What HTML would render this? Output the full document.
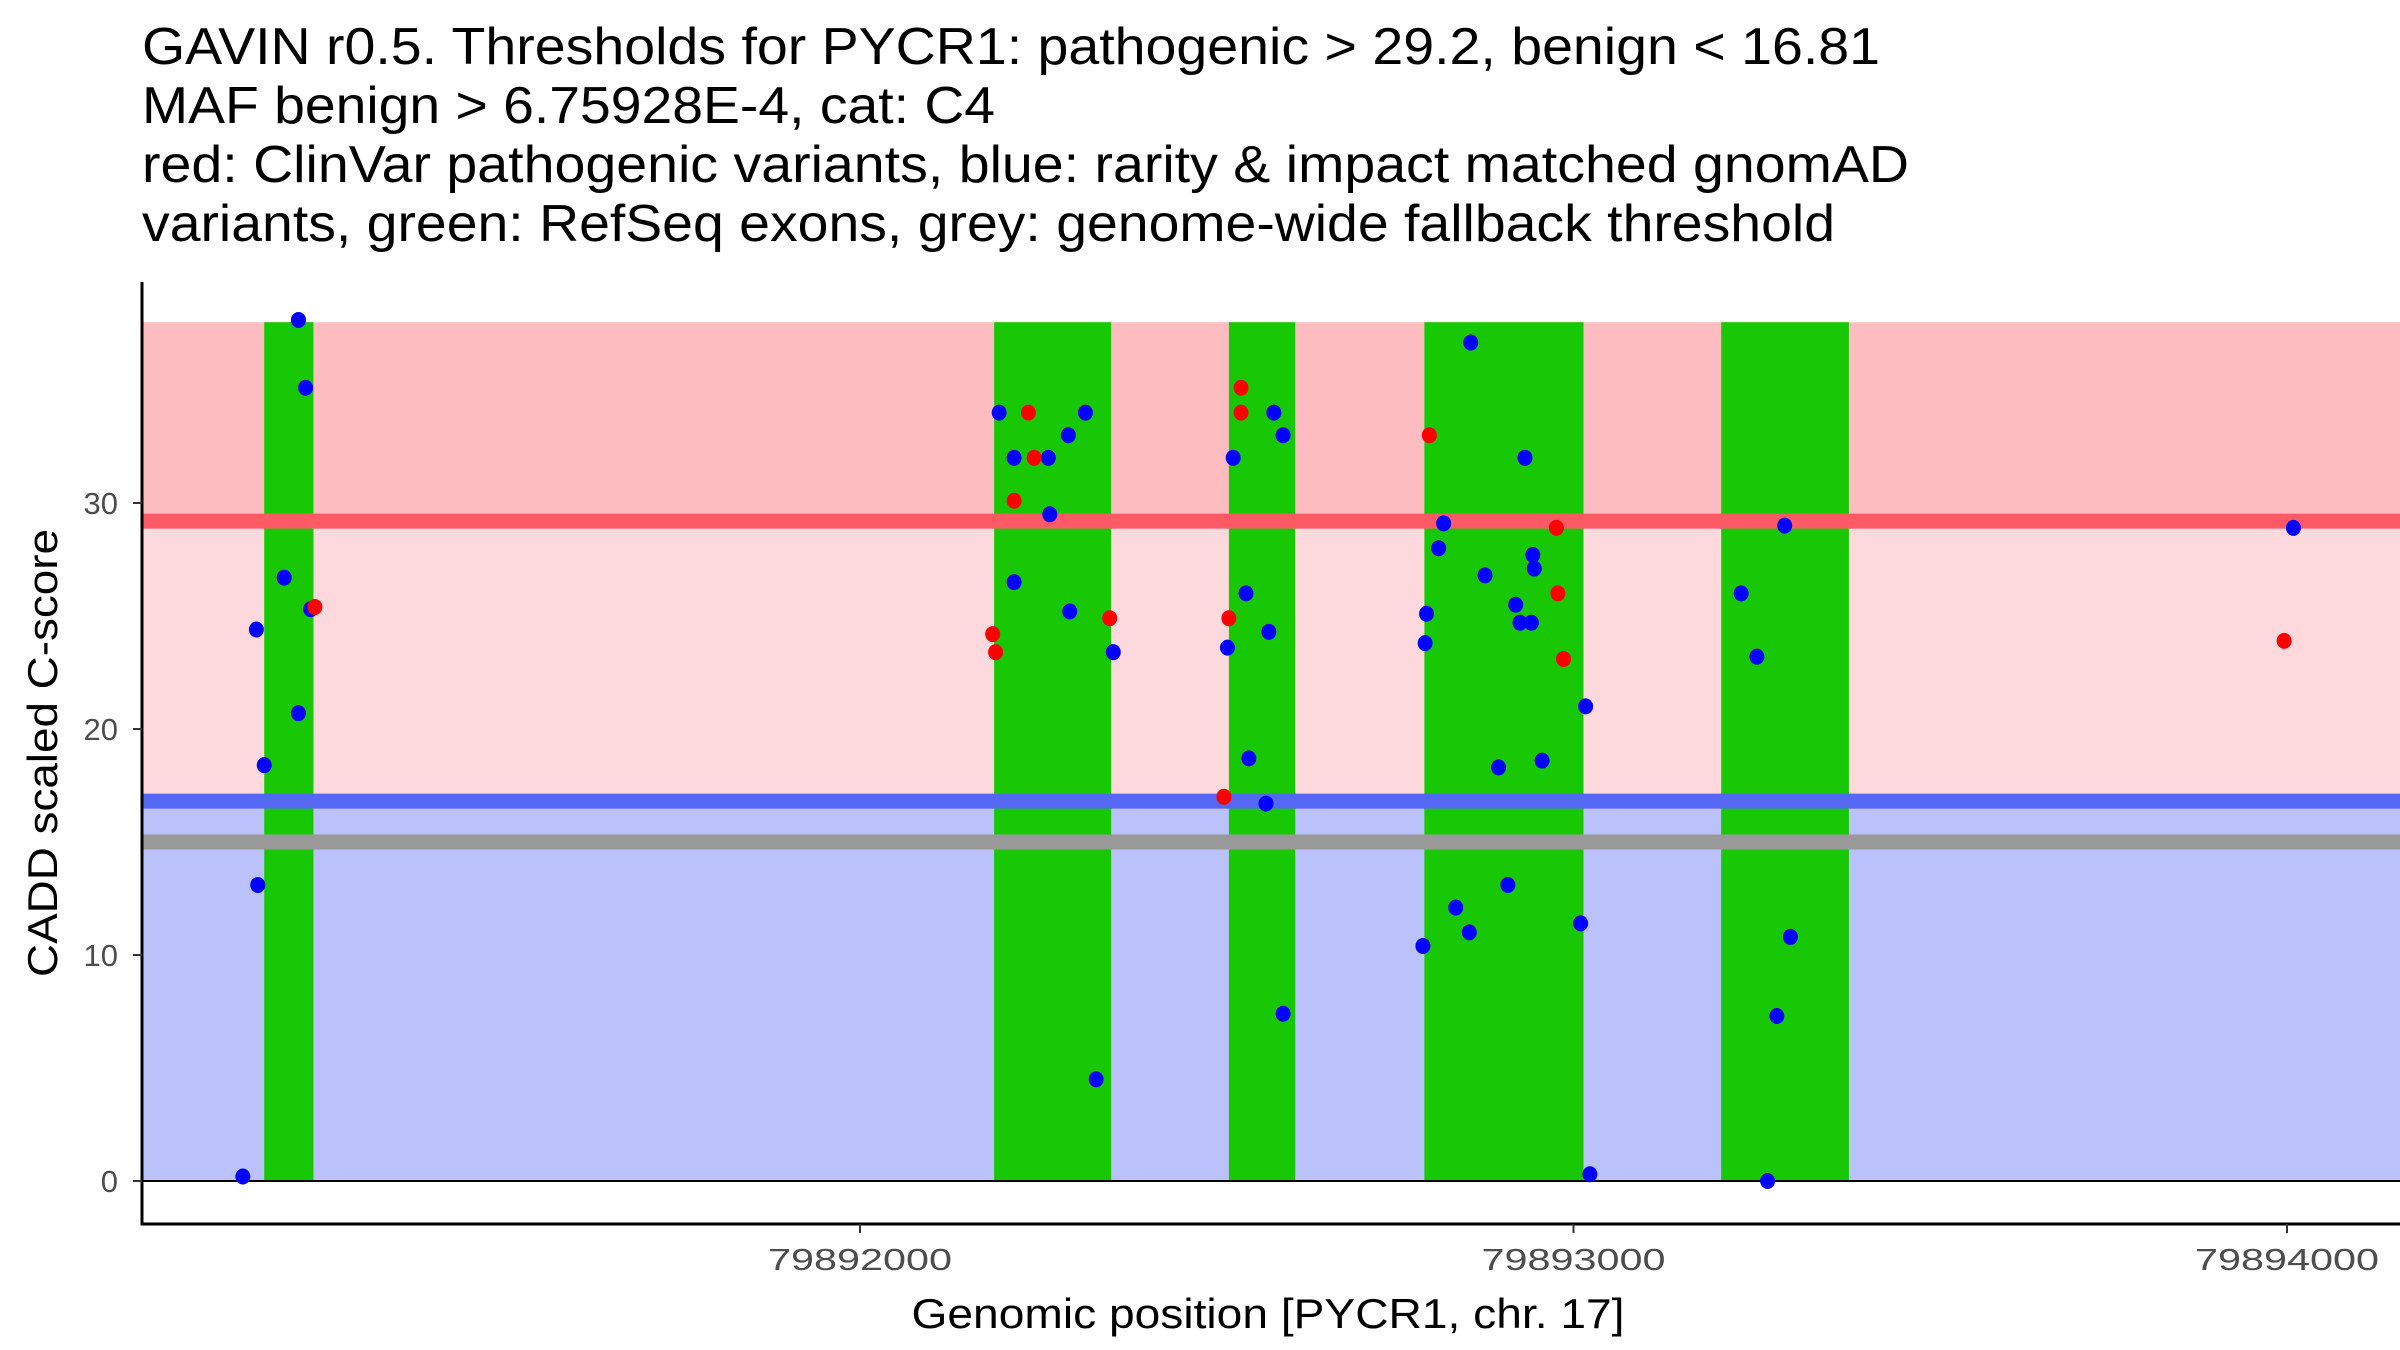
<!DOCTYPE html>
<html><head><meta charset="utf-8"><style>
html,body{margin:0;padding:0;background:#fff;}
svg{display:block;font-family:"Liberation Sans",Arial,sans-serif;}
</style></head><body>
<svg id="chart" width="2400" height="1350" viewBox="0 0 2400 1350">
<g font-size="52" fill="#000">
<text x="142" y="64" textLength="1738" lengthAdjust="spacingAndGlyphs">GAVIN r0.5. Thresholds for PYCR1: pathogenic &gt; 29.2, benign &lt; 16.81</text>
<text x="142" y="123" textLength="853" lengthAdjust="spacingAndGlyphs">MAF benign &gt; 6.75928E-4, cat: C4</text>
<text x="142" y="182" textLength="1767" lengthAdjust="spacingAndGlyphs">red: ClinVar pathogenic variants, blue: rarity &amp; impact matched gnomAD</text>
<text x="142" y="241" textLength="1693" lengthAdjust="spacingAndGlyphs">variants, green: RefSeq exons, grey: genome-wide fallback threshold</text>
</g>
<g id="bands"></g>
<g id="exons"></g>
<g id="lines"></g>
<g id="points"></g>
<g id="axes"></g>
</svg>
<script>
const exonStarts=[79891165,79892188,79892517,79892791,79893207];
const exonEnds=[79891234,79892352,79892610,79893014,79893386];
const thresholdValues=[29.2,16.81,15];
const benignX=[79891135,79891154,79891156,79891165,79891193,79891213,79891213,79891223,79891230,79892195,79892216,79892216,79892264,79892266,79892292,79892294,79892316,79892331,79892355,79892515,79892523,79892541,79892545,79892569,79892573,79892580,79892593,79892593,79892789,79892792,79892794,79892811,79892818,79892835,79892854,79892856,79892876,79892895,79892908,79892919,79892925,79892932,79892941,79892943,79892945,79892956,79893010,79893017,79893023,79893235,79893257,79893272,79893285,79893296,79893304,79894009];
const benignY=[0.2,24.4,13.1,18.4,26.7,38.1,20.7,35.1,25.3,34.0,32.0,26.5,32.0,29.5,33.0,25.2,34.0,4.5,23.4,23.6,32.0,26.0,18.7,16.7,24.3,34.0,33.0,7.4,10.4,23.8,25.1,28.0,29.1,12.1,11.0,37.1,26.8,18.3,13.1,25.5,24.7,32.0,24.7,27.7,27.1,18.6,11.4,21.0,0.3,26.0,23.2,0.0,7.3,29.0,10.8,28.9];
const pathoX=[79891236,79892186,79892190,79892216,79892236,79892244,79892350,79892510,79892517,79892534,79892534,79892798,79892976,79892978,79892986,79893996];
const pathoY=[25.4,24.2,23.4,30.1,34.0,32.0,24.9,17.0,24.9,35.1,34.0,33.0,28.9,26.0,23.1,23.9];
const xTicks=[79892000,79893000,79894000];
const yTicks=[0,10,20,30];
const yMax=38;

const NS='http://www.w3.org/2000/svg';
const L=142,R=2400,B=1224;
const xs=v=>860+(v-79892000)*0.7135;
const ys=v=>1181-v*22.6;
function mk(parent,tag,attrs){const e=document.createElementNS(NS,tag);for(const k in attrs)e.setAttribute(k,attrs[k]);document.getElementById(parent).appendChild(e);return e;}
let e;
e=mk('bands','rect',{x:L,y:ys(yMax),width:R-L,height:ys(thresholdValues[0])-ys(yMax),fill:'#fdbcc0'});


e=mk('bands','rect',{x:L,y:ys(thresholdValues[0]),width:R-L,height:ys(thresholdValues[1])-ys(thresholdValues[0]),fill:'#fdd8dc'});


e=mk('bands','rect',{x:L,y:ys(thresholdValues[1]),width:R-L,height:ys(0)-ys(thresholdValues[1]),fill:'#bbc1fa'});


exonStarts.forEach((s,i)=>{
 const r=mk('exons','rect',{x:xs(s),y:ys(yMax),width:xs(exonEnds[i])-xs(s),height:ys(0)-ys(yMax),fill:'#19c805'});
 
 
});
const lc=['#fd5a66','#5468f4','#999999'];
const ln=['pathogenic-threshold-line','benign-threshold-line','fallback-threshold-line'];
thresholdValues.forEach((t,i)=>{
 const l=mk('lines','line',{x1:L,x2:R,y1:ys(t),y2:ys(t),stroke:lc[i],'stroke-width':15});
 
 
});
e=mk('lines','line',{x1:L,x2:R,y1:ys(0),y2:ys(0),stroke:'#000','stroke-width':2});


benignX.forEach((x,i)=>{
 const c=mk('points','ellipse',{cx:xs(x),cy:ys(benignY[i]),rx:7.5,ry:8,fill:'#0000ff'});
 
 
});
pathoX.forEach((x,i)=>{
 const c=mk('points','ellipse',{cx:xs(x),cy:ys(pathoY[i]),rx:7.5,ry:8,fill:'#ff0000'});
 
 
});
e=mk('axes','line',{x1:L,x2:L,y1:282,y2:B+1.5,stroke:'#000','stroke-width':3});


e=mk('axes','line',{x1:L-1.5,x2:R,y1:B,y2:B,stroke:'#000','stroke-width':3});


yTicks.forEach(t=>{
 const tk=mk('axes','line',{x1:L-9,x2:L,y1:ys(t),y2:ys(t),stroke:'#333','stroke-width':2});
 
 
 const tx=mk('axes','text',{x:L-24,y:ys(t)+11,'text-anchor':'end','font-size':31,fill:'#4d4d4d'});
 tx.textContent=t;
 
 
});
xTicks.forEach(t=>{
 const tk=mk('axes','line',{x1:xs(t),x2:xs(t),y1:B,y2:B+9,stroke:'#333','stroke-width':2});
 
 
 const tx=mk('axes','text',{x:xs(t),y:B+46,'text-anchor':'middle','font-size':31,fill:'#4d4d4d',textLength:184,lengthAdjust:'spacingAndGlyphs'});
 tx.textContent=t;
 
 
});
e=mk('axes','text',{x:1268,y:1328,'text-anchor':'middle','font-size':42,fill:'#000',textLength:713,lengthAdjust:'spacingAndGlyphs'});
e.textContent='Genomic position [PYCR1, chr. 17]';


e=mk('axes','text',{x:0,y:0,'text-anchor':'middle','font-size':42,fill:'#000',textLength:448,lengthAdjust:'spacingAndGlyphs',transform:'translate(57,753) rotate(-90)'});
e.textContent='CADD scaled C-score';


</script>
</body></html>
